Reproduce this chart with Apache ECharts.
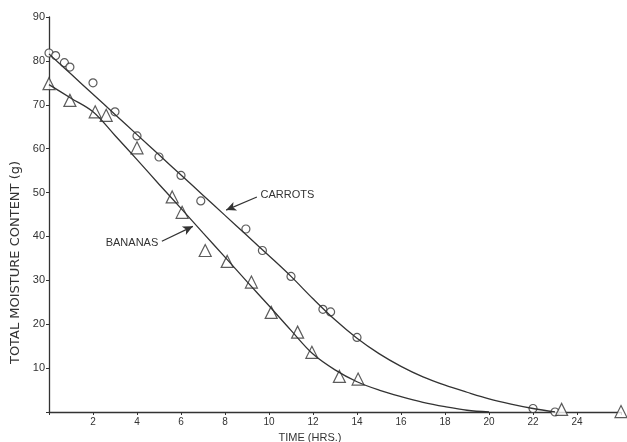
<!DOCTYPE html>
<html>
<head>
<meta charset="utf-8">
<script src="https://cdn.jsdelivr.net/npm/echarts@6/dist/echarts.min.js"></script>
<style>
  html, body { margin: 0; padding: 0; background: #fff; }
  #chart { width: 627px; height: 442px; }
</style>
</head>
<body>
<div id="chart"></div>
<script>
// measured points (hours, grams)
var carrotX = [0, 0.3, 0.7, 0.95, 2.0, 3.0, 4.0, 5.0, 6.0, 6.9, 8.95, 9.7, 11.0, 12.45, 12.8, 14.0, 22.0, 23.0];
var carrotY = [81.8, 81.2, 79.6, 78.6, 75.0, 68.4, 62.9, 58.1, 53.9, 48.1, 41.7, 36.8, 30.9, 23.4, 22.8, 17.0, 0.8, 0];
var bananaX = [0, 0.95, 2.1, 2.6, 4.0, 5.6, 6.05, 7.1, 8.1, 9.2, 10.1, 11.3, 11.95, 13.2, 14.05, 23.3, 26.0];
var bananaY = [74.8, 71.0, 68.4, 67.6, 60.2, 49.0, 45.5, 36.8, 34.3, 29.6, 22.7, 18.2, 13.6, 8.1, 7.5, 0.6, 0.1];

// hand drawn curves, one reading per hour
var carrotCurveX = [0, 1, 2, 3, 4, 5, 6, 7, 8, 9, 10, 11, 12, 13, 14, 15, 16, 17, 18, 19, 20, 21, 22, 23];
var carrotCurveY = [81.6, 77.0, 72.4, 67.8, 63.2, 58.6, 54.0, 49.4, 44.8, 40.2, 35.6, 30.9, 25.8, 21.0, 16.8, 13.3, 10.4, 8.0, 6.1, 4.5, 3.0, 1.8, 0.8, 0];
var bananaCurveX = [0, 1, 2, 3, 4, 5, 6, 7, 8, 9, 10, 11, 12, 13, 14, 15, 16, 17, 18, 19, 20];
var bananaCurveY = [74.6, 71.5, 68.4, 63.0, 57.5, 51.9, 46.4, 40.8, 35.3, 29.7, 24.2, 18.6, 13.2, 9.6, 6.9, 5.0, 3.5, 2.2, 1.2, 0.4, 0];

var xTicks = [2, 4, 6, 8, 10, 12, 14, 16, 18, 20, 22, 24];
var yTicks = [10, 20, 30, 40, 50, 60, 70, 80, 90];

// annotation arrows [start, end] in data units
var carrotArrow = [[9.45, 49.0], [8.05, 46.0]];
var bananaArrow = [[5.13, 38.9], [6.54, 42.3]];

function zip(xs, ys) {
    return xs.map(function (x, i) { return [x, ys[i]]; });
}

var ink = '#333';
var font = 'Liberation Sans';

echarts.init(document.getElementById('chart')).setOption({
    animation: false,
    backgroundColor: '#fff',
    grid: {left: 49, right: 6, top: 17, bottom: 30, outerBoundsMode: 'none'},
    xAxis: {
        type: 'value',
        min: 0, max: 26, interval: 2,
        name: 'TIME (HRS.)',
        nameLocation: 'middle',
        nameGap: 20,
        nameTextStyle: {color: ink, fontSize: 11, fontFamily: font, padding: [0, 50, 0, 0]},
        axisLine: {lineStyle: {color: ink, width: 1.3}},
        axisTick: {show: true, length: 3, lineStyle: {color: ink}},
        axisLabel: {
            color: ink, fontSize: 10, fontFamily: font, margin: 5,
            formatter: function (v) { return xTicks.indexOf(v) >= 0 ? String(v) : ''; }
        },
        splitLine: {show: false}
    },
    yAxis: {
        type: 'value',
        min: 0, max: 90, interval: 10,
        name: 'TOTAL MOISTURE CONTENT (g)',
        nameLocation: 'middle',
        nameGap: 24,
        nameTextStyle: {color: ink, fontSize: 13, fontFamily: 'DejaVu Sans', padding: [0, 96, 0, 0]},
        axisLine: {show: true, lineStyle: {color: ink, width: 1.3}},
        axisTick: {show: true, length: 3, lineStyle: {color: ink}},
        axisLabel: {
            color: ink, fontSize: 11, fontFamily: font, margin: 4,
            formatter: function (v) { return yTicks.indexOf(v) >= 0 ? String(v) : ''; }
        },
        splitLine: {show: false}
    },
    series: [
        {
            name: 'carrots fit',
            type: 'line',
            data: zip(carrotCurveX, carrotCurveY),
            smooth: 0.35,
            showSymbol: false,
            lineStyle: {color: ink, width: 1.3}
        },
        {
            name: 'bananas fit',
            type: 'line',
            data: zip(bananaCurveX, bananaCurveY),
            smooth: 0.35,
            showSymbol: false,
            lineStyle: {color: ink, width: 1.3}
        },
        {
            name: 'CARROTS',
            type: 'scatter',
            clip: false,
            data: zip(carrotX, carrotY),
            symbol: 'circle',
            symbolSize: 8,
            itemStyle: {color: '#fff', borderColor: ink, borderWidth: 1.2},
            markLine: {
                silent: true,
                symbol: ['none', 'arrow'],
                symbolSize: [7, 10],
                lineStyle: {color: ink, width: 1.2, type: 'solid'},
                label: {show: true, position: 'start', formatter: 'CARROTS', color: ink, fontSize: 11, fontFamily: font, distance: 4},
                data: [[{coord: carrotArrow[0]}, {coord: carrotArrow[1]}]]
            }
        },
        {
            name: 'BANANAS',
            type: 'scatter',
            clip: false,
            data: zip(bananaX, bananaY),
            symbol: 'triangle',
            symbolSize: 12,
            itemStyle: {color: '#fff', borderColor: ink, borderWidth: 1.2},
            markLine: {
                silent: true,
                symbol: ['none', 'arrow'],
                symbolSize: [7, 10],
                lineStyle: {color: ink, width: 1.2, type: 'solid'},
                label: {show: true, position: 'start', formatter: 'BANANAS', color: ink, fontSize: 11, fontFamily: font, distance: 4},
                data: [[{coord: bananaArrow[0]}, {coord: bananaArrow[1]}]]
            }
        }
    ]
});
</script>
</body>
</html>
